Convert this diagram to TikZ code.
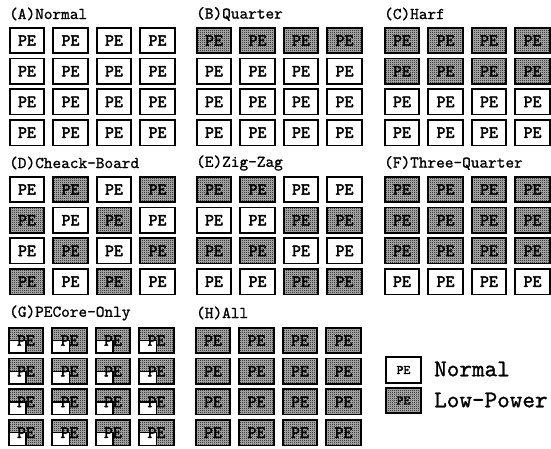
\documentclass[tikz,border=0pt]{standalone}
\usepackage{fontspec}
\newfontfamily\pefont{lmmono10-regular.otf}[FakeBold=2.5]
\newfontfamily\ttlfont{lmmono10-regular.otf}[FakeBold=1]
\usetikzlibrary{patterns}
\pgfdeclarepatternformonly{halftone}{\pgfqpoint{0pt}{0pt}}{\pgfqpoint{2pt}{2pt}}{\pgfqpoint{2pt}{2pt}}{%
  \pgfpathrectangle{\pgfqpoint{0pt}{0pt}}{\pgfqpoint{1pt}{1pt}}%
  \pgfpathrectangle{\pgfqpoint{1pt}{1pt}}{\pgfqpoint{1pt}{1pt}}%
  \pgfusepath{fill}}
\tikzset{
  cellbase/.style={draw=black, line width=1.6pt, minimum width=34.5pt, minimum height=25.5pt,
    inner sep=0pt, font=\pefont\fontsize{17}{17}\selectfont},
  celln/.style={cellbase, fill=white},
  celll/.style={cellbase, preaction={fill=black!28}, pattern=halftone, pattern color=black},
  cellg/.style={celll, path picture={\draw[line width=1.2pt, fill=white]
      (path picture bounding box.south west) rectangle (path picture bounding box.center);}},
  ptitle/.style={anchor=west, inner sep=0pt, font=\ttlfont\fontsize{16.5}{16.5}\selectfont},
  legtext/.style={anchor=west, inner sep=0pt, font=\ttlfont\fontsize{24}{24}\selectfont},
}
\newcommand\mypanel[4]{%
  \foreach \t [count=\k from 0] in {#4} {
    \pgfmathtruncatemacro\ci{mod(\k,4)}
    \pgfmathtruncatemacro\rj{div(\k,4)}
    \node[cell\t] (#1\k) at ({#2+18+43.5*\ci},{#3+13.5+30.7*\rj}) {PE};
  }}
\begin{document}
\begin{tikzpicture}[x=1pt,y=-1pt]
\useasboundingbox[fill=white] (0,0) rectangle (551,449);
% titles
\node[ptitle] (tA) at (9,14) {(A)Normal};
\node[ptitle] (tB) at (196,14) {(B)Quarter};
\node[ptitle] (tC) at (384,14) {(C)Harf};
\node[ptitle] (tD) at (9,163) {(D)Cheack-Board};
\node[ptitle] (tE) at (196,163) {(E)Zig-Zag};
\node[ptitle] (tF) at (384,163) {(F)Three-Quarter};
\node[ptitle] (tG) at (9,313) {(G)PECore-Only};
\node[ptitle] (tH) at (196,313) {(H)All};
% panels
\mypanel{A}{9}{27}{n,n,n,n, n,n,n,n, n,n,n,n, n,n,n,n}
\mypanel{B}{196}{27}{l,l,l,l, n,n,n,n, n,n,n,n, n,n,n,n}
\mypanel{C}{384}{27}{l,l,l,l, l,l,l,l, n,n,n,n, n,n,n,n}
\mypanel{D}{9}{176}{n,l,n,l, l,n,l,n, n,l,n,l, l,n,l,n}
\mypanel{E}{196}{176}{l,l,n,n, n,n,l,l, l,l,n,n, n,n,l,l}
\mypanel{F}{384}{176}{l,l,l,l, l,l,l,l, l,l,l,l, n,n,n,n}
\mypanel{G}{8}{327}{g,g,g,g, g,g,g,g, g,g,g,g, g,g,g,g}
\mypanel{H}{195}{327}{l,l,l,l, l,l,l,l, l,l,l,l, l,l,l,l}
% legend
\node[celln, font=\pefont\fontsize{13}{13}\selectfont] (legN) at (403.5,370) {PE};
\node[celll, font=\pefont\fontsize{13}{13}\selectfont] (legL) at (403.5,400.5) {PE};
\node[legtext] (legNt) at (434,369) {Normal};
\node[legtext] (legLt) at (434,400) {Low-Power};
\end{tikzpicture}
\end{document}
